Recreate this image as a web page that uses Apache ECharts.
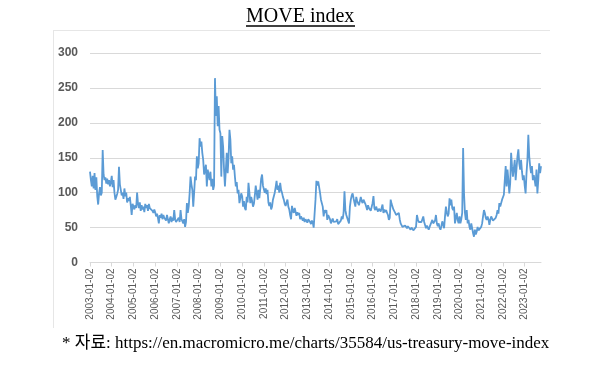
<!DOCTYPE html>
<html>
<head>
<meta charset="utf-8">
<script src="https://cdn.jsdelivr.net/npm/echarts@6/dist/echarts.min.js"></script>
<style>
  html, body { margin: 0; padding: 0; background: #fff; }
  #chart { width: 610px; height: 376px; }
</style>
</head>
<body>
<div id="chart"></div>
<script>
// MOVE index, two readings per month
const startYear = 2003
const v2003 = [130, 118, 109, 124, 106, 128, 104, 122, 95, 83, 99, 108, 96, 100, 161, 126, 118, 122, 113, 120, 112, 118, 109, 115]
const v2004 = [124, 108, 118, 100, 90, 94, 98, 104, 137, 112, 104, 96, 100, 91, 106, 95, 100, 86, 92, 88, 94, 82, 68, 84]
const v2005 = [84, 76, 82, 78, 100, 84, 78, 86, 74, 82, 76, 80, 72, 84, 78, 82, 74, 84, 78, 76, 80, 74, 71, 76]
const v2006 = [72, 66, 70, 64, 56, 68, 64, 70, 62, 68, 64, 66, 60, 68, 62, 56, 62, 66, 58, 64, 60, 75, 62, 58]
const v2007 = [60, 56, 64, 58, 75, 62, 60, 56, 62, 51, 58, 85, 71, 80, 99, 123, 112, 104, 80, 100, 123, 118, 152, 135]
const v2008 = [142, 178, 166, 173, 157, 147, 126, 128, 140, 109, 133, 125, 118, 130, 109, 120, 104, 110, 264, 210, 238, 195, 224, 190]
const v2009 = [185, 123, 181, 166, 133, 109, 133, 157, 128, 150, 190, 176, 142, 152, 133, 140, 123, 109, 115, 99, 104, 85, 92, 99]
const v2010 = [95, 80, 88, 78, 75, 94, 86, 114, 100, 85, 94, 88, 80, 84, 96, 110, 100, 90, 104, 92, 105, 120, 126, 110]
const v2011 = [110, 100, 106, 98, 104, 86, 81, 86, 76, 80, 90, 95, 100, 108, 117, 104, 110, 100, 114, 104, 100, 94, 90, 84]
const v2012 = [81, 86, 90, 80, 76, 68, 62, 81, 74, 71, 78, 76, 67, 72, 68, 71, 62, 66, 64, 60, 64, 58, 62, 60]
const v2013 = [57, 62, 64, 58, 55, 60, 57, 50, 52, 90, 117, 110, 116, 118, 100, 90, 88, 80, 66, 75, 71, 75, 61, 68]
const v2014 = [66, 62, 56, 60, 63, 58, 60, 56, 59, 62, 55, 54, 57, 60, 66, 62, 71, 102, 75, 68, 66, 60, 56, 80]
const v2015 = [90, 96, 99, 92, 86, 80, 94, 88, 90, 82, 80, 94, 88, 85, 90, 92, 84, 80, 75, 82, 78, 80, 74, 76]
const v2016 = [85, 95, 78, 75, 80, 76, 73, 77, 75, 73, 78, 83, 71, 76, 72, 75, 71, 68, 61, 64, 90, 84, 80, 76]
const v2017 = [75, 71, 68, 66, 70, 71, 62, 56, 54, 51, 52, 49, 53, 51, 49, 52, 54, 50, 47, 50, 51, 46, 44, 48]
const v2018 = [51, 68, 62, 58, 56, 60, 58, 62, 66, 58, 56, 49, 53, 50, 47, 51, 50, 52, 61, 56, 54, 60, 68, 56]
const v2019 = [52, 56, 50, 47, 52, 59, 54, 49, 66, 80, 72, 66, 70, 92, 82, 90, 78, 75, 80, 56, 64, 71, 61, 56]
const v2020 = [66, 56, 62, 71, 164, 99, 71, 61, 75, 56, 61, 51, 47, 56, 49, 42, 37, 47, 40, 44, 51, 46, 44, 48]
const v2021 = [51, 56, 66, 75, 71, 64, 61, 66, 62, 54, 61, 66, 64, 60, 61, 58, 64, 68, 75, 70, 85, 80, 82, 90]
const v2022 = [92, 97, 118, 138, 109, 133, 118, 99, 114, 157, 138, 123, 135, 147, 118, 135, 152, 162, 142, 133, 147, 130, 118, 125]
const v2023 = [110, 99, 128, 147, 183, 152, 138, 128, 138, 118, 125, 118, 109, 133, 99, 118, 142, 128, 138]

const yearValues = [v2003, v2004, v2005, v2006, v2007, v2008, v2009, v2010, v2011, v2012, v2013,
    v2014, v2015, v2016, v2017, v2018, v2019, v2020, v2021, v2022, v2023]

const yTicks = [0, 50, 100, 150, 200, 250, 300]

const dates = []
const values = []
yearValues.forEach((arr, yi) => {
    arr.forEach((v, k) => {
        const m = String(Math.floor(k / 2) + 1).padStart(2, '0')
        dates.push(`${startYear + yi}-${m}-${k % 2 ? '16' : '02'}`)
        values.push(v)
    })
})

const isYearStart = (i, name) => name.endsWith('-01-02')

const chart = echarts.init(document.getElementById('chart'))

chart.setOption({
    animation: false,
    title: [
        {
            text: 'MOVE index',
            left: 246,
            top: 7,
            padding: 0,
            textStyle: { fontFamily: 'Liberation Serif', fontSize: 20, fontWeight: 'normal', color: '#000' }
        },
        {
            text: '* 자료: https://en.macromicro.me/charts/35584/us-treasury-move-index',
            left: 62,
            top: 335,
            padding: 0,
            textStyle: { fontFamily: "'Liberation Serif', 'Noto Sans CJK KR'", fontSize: 17, fontWeight: 'normal', color: '#000' }
        }
    ],
    graphic: [
        { type: 'line', shape: { x1: 246, y1: 26, x2: 355, y2: 26 }, style: { stroke: '#000', lineWidth: 1.5 } },
        { type: 'line', shape: { x1: 53, y1: 30.5, x2: 550, y2: 30.5 }, style: { stroke: '#e6e6e6', lineWidth: 1 } },
        { type: 'line', shape: { x1: 53.5, y1: 30, x2: 53.5, y2: 328 }, style: { stroke: '#e6e6e6', lineWidth: 1 } }
    ],
    grid: { left: 90, right: 69, top: 53, bottom: 113.5 },
    xAxis: {
        type: 'category',
        data: dates,
        boundaryGap: false,
        axisLine: { lineStyle: { color: '#d9d9d9' } },
        axisTick: { interval: isYearStart, length: 4, lineStyle: { color: '#d9d9d9' } },
        axisLabel: {
            interval: isYearStart,
            rotate: 90,
            margin: 6,
            fontFamily: 'Liberation Sans',
            fontSize: 10,
            color: '#595959'
        }
    },
    yAxis: {
        type: 'value',
        min: yTicks[0],
        max: yTicks[yTicks.length - 1],
        interval: 50,
        axisLine: { show: false },
        axisTick: { show: false },
        splitLine: { lineStyle: { color: '#d9d9d9' } },
        axisLabel: { margin: 12, fontFamily: 'Liberation Sans', fontSize: 12, fontWeight: 'bold', color: '#595959' }
    },
    series: [
        {
            type: 'line',
            data: values,
            showSymbol: false,
            lineStyle: { color: '#5b9bd5', width: 1.8 }
        }
    ]
})
</script>
</body>
</html>
